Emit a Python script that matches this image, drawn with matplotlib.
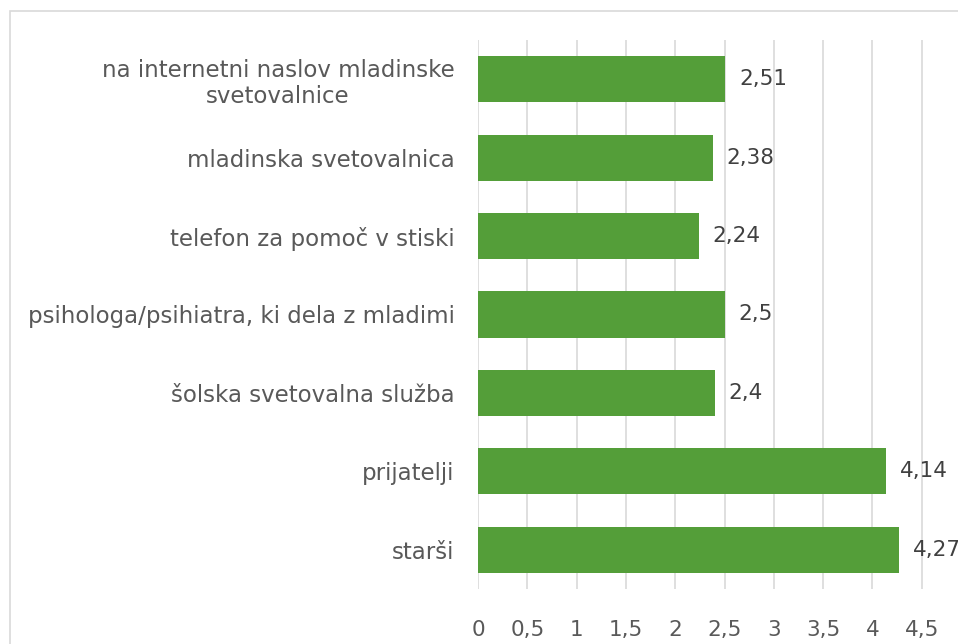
import matplotlib
matplotlib.use("Agg")
import matplotlib.pyplot as plt
from matplotlib.patches import Rectangle

categories = ["starši", "prijatelji", "šolska svetovalna služba",
              "psihologa/psihiatra, ki dela z mladimi", "telefon za pomoč v stiski",
              "mladinska svetovalnica", "na internetni naslov mladinske\nsvetovalnice"]
values = [4.27, 4.14, 2.4, 2.5, 2.24, 2.38, 2.51]
value_labels = ["4,27", "4,14", "2,4", "2,5", "2,24", "2,38", "2,51"]
xticks = [0, 0.5, 1, 1.5, 2, 2.5, 3, 3.5, 4, 4.5]
xtick_labels = ["0", "0,5", "1", "1,5", "2", "2,5", "3", "3,5", "4", "4,5"]

plt.rcParams['font.family'] = ['DejaVu Sans']
W, H = 958, 644
fig = plt.figure(figsize=(W/100, H/100), dpi=100)
fig.patches.append(Rectangle((10/W, -0.5), 2.0, 1 - 11/H + 0.5, transform=fig.transFigure,
                             fill=False, edgecolor="#D9D9D9", linewidth=1.2))
ax = fig.add_axes([478/W, 55/H, 493/W, 549/H])
ypos = list(range(len(categories)))
ax.barh(ypos, values, height=0.59, color="#549E39", zorder=3)
for y, v, lab in zip(ypos, values, value_labels):
    ax.text(v + 0.14, y, lab, va="center", ha="left", fontsize=15.5, color="#404040")
ax.set_xlim(0, 5)
ax.set_ylim(-0.5, len(categories) - 0.5)
ax.set_yticks(ypos)
ax.set_yticklabels(categories, fontsize=16.5, color="#595959", ha="right", multialignment="center")
ax.set_xticks(xticks)
ax.set_xticklabels(xtick_labels, fontsize=15.5, color="#595959")
ax.tick_params(axis="y", length=0, pad=17)
ax.tick_params(axis="x", length=0, pad=22)
ax.grid(axis="x", color="#D9D9D9", linewidth=1.2, zorder=0)
for s in ax.spines.values():
    s.set_visible(False)
fig.savefig("out.png", dpi=100)
